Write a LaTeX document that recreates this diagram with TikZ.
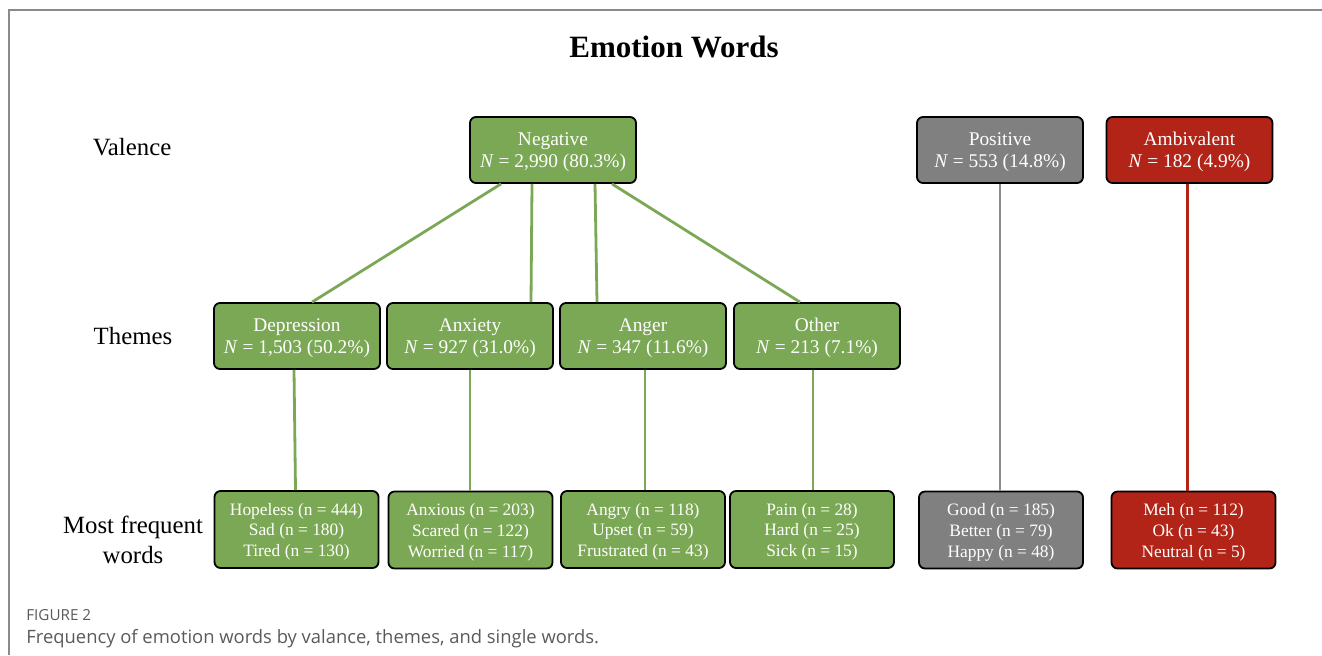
\documentclass[tikz,border=0pt]{standalone}
\usepackage{fontspec}
\setmainfont{Liberation Serif}
\newfontfamily\capfont{Open Sans}
\usetikzlibrary{calc}
\definecolor{grn}{HTML}{7BA854}
\definecolor{gry}{HTML}{808080}
\definecolor{rd}{HTML}{B22418}
\definecolor{frm}{HTML}{8A8A8A}
\definecolor{captxt}{HTML}{5A5A5A}
\newcommand\lines[1]{\begin{tabular}[t]{@{}c@{}}#1\end{tabular}}
\tikzset{
  box/.style={draw=black, line width=0.9pt, rounded corners=3pt, text=white,
    inner sep=0pt, text height=0pt},
  valbox/.style={box, minimum width=83pt, minimum height=33pt, text depth=4.8pt,
    font=\fontsize{9.7}{11.1}\selectfont},
  thbox/.style={valbox},
  wdbox/.style={box, minimum width=82pt, minimum height=38.5pt, text depth=14.5pt,
    font=\fontsize{8.7}{10.4}\selectfont},
  rowlab/.style={align=center, font=\fontsize{12.4}{15}\selectfont},
  glink/.style={draw=grn, line width=1.4pt},
  plink/.style={draw=gry!90, line width=1.4pt},
  rlink/.style={draw=rd, line width=1.4pt},
}
\begin{document}
\begin{tikzpicture}[x=0.5pt,y=-0.5pt]
\useasboundingbox (0,0) rectangle (1322,655);
\draw[frm, line width=1pt] (1322,10) -- (9,10) -- (9,655);
\node[font=\bfseries\fontsize{15.5}{18}\selectfont] (title) at (674,47) {Emotion Words};
\node[rowlab] (lval) at (132,147) {Valence};
\node[rowlab] (lthe) at (133,336) {Themes};
\node[rowlab] (lwrd) at (133,540) {Most frequent\\words};
% valence
\node[valbox, fill=grn] (neg) at (553,150) {\lines{Negative\\\textit{N} = 2,990 (80.3\%)}};
\node[valbox, fill=gry] (pos) at (1000,150) {\lines{Positive\\\textit{N} = 553 (14.8\%)}};
\node[valbox, fill=rd] (amb) at (1189.5,150) {\lines{Ambivalent\\\textit{N} = 182 (4.9\%)}};
% themes
\node[thbox, fill=grn] (dep) at (297,336) {\lines{Depression\\\textit{N} = 1,503 (50.2\%)}};
\node[thbox, fill=grn] (anx) at (470,336) {\lines{Anxiety\\\textit{N} = 927 (31.0\%)}};
\node[thbox, fill=grn] (ang) at (643,336) {\lines{Anger\\\textit{N} = 347 (11.6\%)}};
\node[thbox, fill=grn] (oth) at (817,336) {\lines{Other\\\textit{N} = 213 (7.1\%)}};
% words
\node[wdbox, fill=grn] (wdep) at (296.5,529.5) {\lines{Hopeless (n = 444)\\Sad (n = 180)\\Tired (n = 130)}};
\node[wdbox, fill=grn] (wanx) at (470.5,530) {\lines{Anxious (n = 203)\\Scared (n = 122)\\Worried (n = 117)}};
\node[wdbox, fill=grn] (wang) at (643,529.5) {\lines{Angry (n = 118)\\Upset (n = 59)\\Frustrated (n = 43)}};
\node[wdbox, fill=grn] (woth) at (812,529.5) {\lines{Pain (n = 28)\\Hard (n = 25)\\Sick (n = 15)}};
\node[wdbox, fill=gry] (wpos) at (1001,530) {\lines{Good (n = 185)\\Better (n = 79)\\Happy (n = 48)}};
\node[wdbox, fill=rd] (wamb) at (1193.5,530) {\lines{Meh (n = 112)\\Ok (n = 43)\\Neutral (n = 5)}};
% links valence -> themes
\draw[glink] ([xshift=-26pt]neg.south) -- ([xshift=7.5pt]dep.north);
\draw[glink] ([xshift=-10.5pt]neg.south) -- ([xshift=30.5pt]anx.north);
\draw[glink] ([xshift=21pt]neg.south) -- ([xshift=-23pt]ang.north);
\draw[glink] ([xshift=29.5pt]neg.south) -- ([xshift=-8.5pt]oth.north);
% links themes -> words
\draw[glink] ([xshift=-1.5pt]dep.south) -- ([xshift=-0.75pt]dep.south |- wdep.north);
\draw[glink] (anx.south) -- (anx.south |- wanx.north);
\draw[glink] ([xshift=1pt]ang.south) -- ([xshift=1pt]ang.south |- wang.north);
\draw[glink] ([xshift=-2pt]oth.south) -- ([xshift=-2pt]oth.south |- woth.north);
\draw[plink] (pos.south) -- (pos.south |- wpos.north);
\draw[rlink] ([xshift=-1pt]amb.south) -- ([xshift=-1pt]amb.south |- wamb.north);
% caption
\node[anchor=base west, inner sep=0pt, text=captxt, font=\capfont\fontsize{7.6}{9}\selectfont] (fig) at (26,620) {FIGURE 2};
\node[anchor=base west, inner sep=0pt, text=captxt, font=\capfont\fontsize{9.2}{11}\selectfont] (cap) at (26,643) {Frequency of emotion words by valance, themes, and single words.};
\end{tikzpicture}
\end{document}
